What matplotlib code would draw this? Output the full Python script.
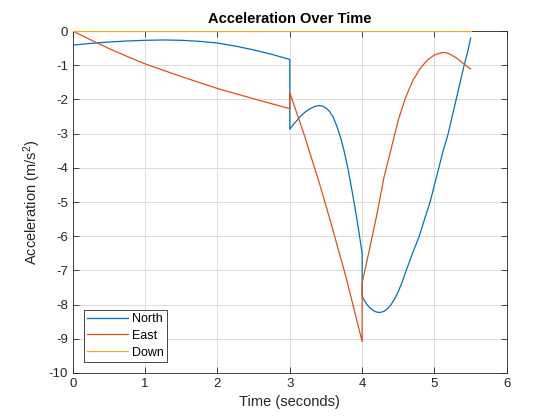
import matplotlib
matplotlib.use("Agg")
import matplotlib.pyplot as plt

plt.rcParams["font.family"] = ["Liberation Sans", "DejaVu Sans"]
plt.rcParams["axes.unicode_minus"] = False
plt.rcParams["mathtext.default"] = "regular"

# values (jumps are repeated time values)
t_north = [0, 0.25, 0.5, 0.75, 1.0, 1.25, 1.5, 1.75, 2.0, 2.25, 2.5, 2.75, 3.0,
           3.0, 3.05, 3.1, 3.15, 3.2, 3.25, 3.3, 3.35, 3.4, 3.45, 3.5, 3.55, 3.6,
           3.65, 3.7, 3.75, 3.8, 3.85, 3.9, 3.95, 4.0,
           4.0, 4.05, 4.1, 4.15, 4.2, 4.25, 4.3, 4.35, 4.4, 4.45, 4.5, 4.55, 4.61,
           4.7, 4.79, 4.87, 4.94, 5.0, 5.06, 5.12, 5.19, 5.25, 5.3, 5.36, 5.41, 5.46, 5.5]
north = [-0.41, -0.36, -0.32, -0.29, -0.27, -0.26, -0.27, -0.30, -0.35, -0.44, -0.55, -0.68, -0.83,
         -2.87, -2.73, -2.61, -2.49, -2.39, -2.31, -2.25, -2.20, -2.18, -2.19, -2.25, -2.35, -2.52,
         -2.78, -3.1, -3.5, -3.98, -4.55, -5.15, -5.8, -6.5,
         -7.76, -7.95, -8.08, -8.17, -8.22, -8.23, -8.2, -8.12, -8.0, -7.83, -7.62, -7.36, -7.0,
         -6.48, -6.0, -5.45, -5.0, -4.5, -4.0, -3.5, -3.0, -2.45, -2.0, -1.45, -1.0, -0.6, -0.2]

t_east = [0, 0.25, 0.5, 0.75, 1.0, 1.5, 2.0, 2.5, 3.0,
          3.0, 3.2, 3.4, 3.55, 3.78, 4.0,
          4.0, 4.1, 4.2, 4.3, 4.4, 4.5, 4.6, 4.7, 4.8, 4.9, 5.0, 5.1, 5.15, 5.2, 5.3, 5.4, 5.5]
east = [0, -0.26, -0.51, -0.74, -0.96, -1.33, -1.68, -1.98, -2.27,
        -1.8, -3.04, -4.39, -5.47, -7.22, -9.08,
        -7.37, -6.4, -5.4, -4.3, -3.45, -2.6, -1.95, -1.45, -1.1, -0.85, -0.7, -0.63, -0.63, -0.66, -0.78, -0.95, -1.11]

t_down = [0, 5.5]
down = [0, 0]

fig = plt.figure(figsize=(5.6, 4.2), dpi=100)
ax = fig.add_axes([0.13, 0.112, 0.775, 0.814])

ax.plot(t_north, north, color="#0072BD", lw=0.9, label="North", zorder=3)
ax.plot(t_east, east, color="#D95319", lw=0.9, label="East", zorder=3)
ax.plot(t_down, down, color="#EDB120", lw=0.9, label="Down", zorder=3, clip_on=False)

ax.set_xlim(0, 6)
ax.set_ylim(-10, 0)
ax.set_xticks(range(0, 7))
ax.set_yticks(range(-10, 1))
ax.grid(True, color="#dcdcdc", lw=0.7)
ax.set_axisbelow(True)
ax.tick_params(direction="in", top=True, right=True, length=4, width=0.6,
               labelsize=9.5, colors="#262626")
for s in ax.spines.values():
    s.set_color("#262626")
    s.set_linewidth(0.6)

ax.set_xlabel("Time (seconds)", fontsize=10.5, color="#262626")
ax.set_ylabel("Acceleration (m/s$^2$)", fontsize=10.5, color="#262626")
ax.set_title("Acceleration Over Time", fontsize=10.5, fontweight="bold", pad=6)

leg = ax.legend(loc="lower left", fontsize=9, fancybox=False, edgecolor="#262626",
                framealpha=1, borderaxespad=0.9, handlelength=3.3, handletextpad=0.3,
                borderpad=0.25, labelspacing=0.38)
leg.get_frame().set_linewidth(0.6)

fig.savefig("out.png", dpi=100)
